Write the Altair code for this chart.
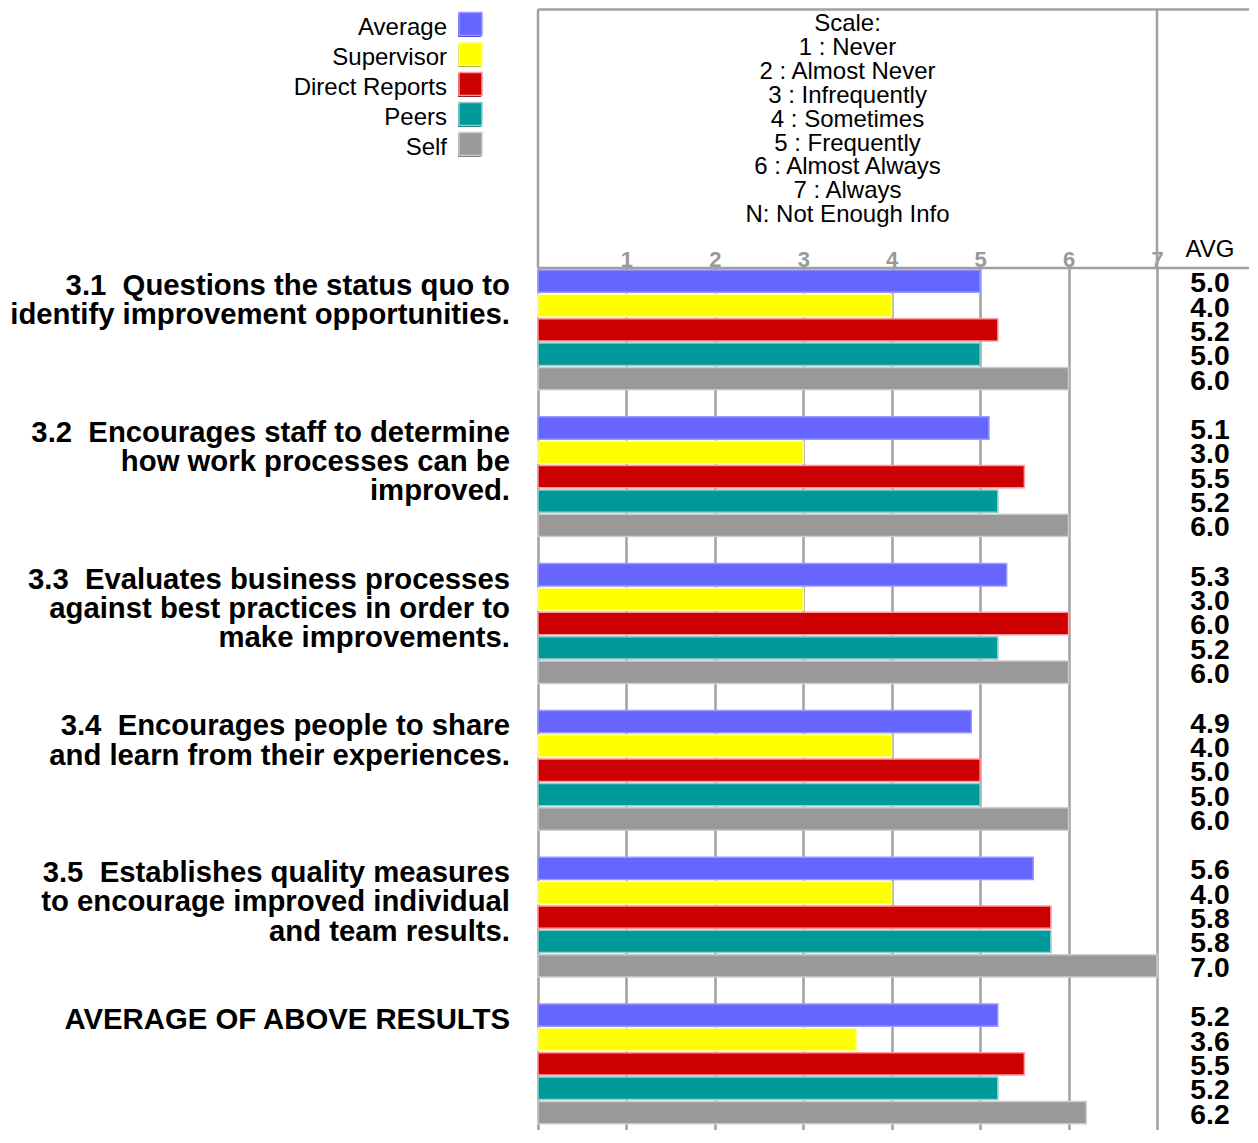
import altair as alt
import pandas as pd

groups = ["3.1", "3.2", "3.3", "3.4", "3.5", "AVG"]
group_labels = [
    "3.1\u00a0 Questions the status quo to\nidentify improvement opportunities.",
    "3.2\u00a0 Encourages staff to determine\nhow work processes can be\nimproved.",
    "3.3\u00a0 Evaluates business processes\nagainst best practices in order to\nmake improvements.",
    "3.4\u00a0 Encourages people to share\nand learn from their experiences.",
    "3.5\u00a0 Establishes quality measures\nto encourage improved individual\nand team results.",
    "AVERAGE OF ABOVE RESULTS",
]
series = ["Average", "Supervisor", "Direct Reports", "Peers", "Self"]
fill_colors = ["#6666ff", "#ffff00", "#cc0000", "#009999", "#999999"]
light_colors = ["#9999ff", "#ffff99", "#ff9999", "#99cccc", "#cccccc"]
dark_colors = ["#3333cc", "#999900", "#660000", "#006666", "#666666"]

v_31 = [5.0, 4.0, 5.2, 5.0, 6.0]
v_32 = [5.1, 3.0, 5.5, 5.2, 6.0]
v_33 = [5.3, 3.0, 6.0, 5.2, 6.0]
v_34 = [4.9, 4.0, 5.0, 5.0, 6.0]
v_35 = [5.6, 4.0, 5.8, 5.8, 7.0]
v_avg = [5.2, 3.6, 5.5, 5.2, 6.2]
all_values = [v_31, v_32, v_33, v_34, v_35, v_avg]

scale_lines = ["Scale:", "1 : Never", "2 : Almost Never", "3 : Infrequently",
               "4 : Sometimes", "5 : Frequently", "6 : Almost Always",
               "7 : Always", "N: Not Enough Info"]
tick_values = [0, 1, 2, 3, 4, 5, 6, 7]

rows = []
for g, vals in zip(groups, all_values):
    for s, v in zip(series, vals):
        rows.append({"group": g, "series": s, "value": v})
df = pd.DataFrame(rows)
df_labels = pd.DataFrame({"group": groups, "label": group_labels})
df_series = pd.DataFrame({"series": series})
one = pd.DataFrame({"k": [0]})

FONT = "Liberation Sans"
GRID = "#a0a0a0"
W, H = 619, 862

group_scale = alt.Scale(type="band", domain=groups, paddingInner=0.184,
                        paddingOuter=0.028, align=0.244)
y_enc = alt.Y("group:N", sort=groups, scale=group_scale, axis=None)
yoff_enc = alt.YOffset("series:N", sort=series,
                       scale=alt.Scale(type="band", domain=series,
                                       paddingInner=0.083, paddingOuter=0))
x_enc = alt.X("value:Q",
              scale=alt.Scale(domain=[0, 7], nice=False, zero=True),
              axis=alt.Axis(orient="top", values=tick_values, grid=True,
                            gridColor=GRID, gridWidth=2.5, domain=False,
                            ticks=False, tickSize=0,
                            labelExpr="datum.value == 0 ? '' : datum.label",
                            labelFont=FONT, labelFontSize=22,
                            labelFontWeight="bold", labelColor="#999999",
                            labelBaseline="alphabetic", labelPadding=2,
                            labelFlush=False, title=None))

fill_scale = alt.Scale(domain=series, range=fill_colors)
light_scale = alt.Scale(domain=series, range=light_colors)
dark_scale = alt.Scale(domain=series, range=dark_colors)

base = alt.Chart(df)

shadow = base.mark_bar(yOffset=1.5).encode(
    x=x_enc, y=y_enc, yOffset=yoff_enc,
    color=alt.Color("series:N", scale=dark_scale, legend=None),
)

bars = base.mark_bar(strokeWidth=1.5).encode(
    x=x_enc, y=y_enc, yOffset=yoff_enc,
    fill=alt.Fill("series:N", scale=fill_scale, legend=None),
    stroke=alt.Stroke("series:N", scale=light_scale, legend=None),
)

avg_text = base.mark_text(font=FONT, fontSize=28.3, fontWeight="bold",
                          baseline="middle", align="center", dy=3,
                          color="black").encode(
    x=alt.value(672), y=y_enc, yOffset=yoff_enc,
    text=alt.Text("value:Q", format=".1f"),
)

label_text = alt.Chart(df_labels).mark_text(
    font=FONT, fontSize=29.3, fontWeight="bold", align="right", baseline="top",
    lineBreak="\n", lineHeight=29.3, dy=2, color="black").encode(
    x=alt.value(-28),
    y=alt.Y("group:N", sort=groups, bandPosition=0, scale=group_scale, axis=None),
    text="label:N",
)

# Legend (labels left of the swatches), positioned by its own point scale
leg_y = alt.Y("series:N", sort=series,
              scale=alt.Scale(type="point", domain=series, range=[-244, -124],
                              padding=0),
              axis=None)
leg_shadow = alt.Chart(df_series).mark_square(size=529, opacity=1, yOffset=1.5,
                                              xOffset=-1).encode(
    x=alt.value(-67.5), y=leg_y,
    color=alt.Color("series:N", scale=dark_scale, legend=None))
leg_sym = alt.Chart(df_series).mark_square(size=529, opacity=1, strokeWidth=1.5).encode(
    x=alt.value(-67.5), y=leg_y,
    fill=alt.Fill("series:N", scale=fill_scale, legend=None),
    stroke=alt.Stroke("series:N", scale=light_scale, legend=None))
leg_text = alt.Chart(df_series).mark_text(
    font=FONT, fontSize=24, align="right", baseline="middle", dy=4,
    color="black").encode(x=alt.value(-91), y=leg_y, text="series:N")

scale_text = alt.Chart(pd.DataFrame({"t": ["\n".join(scale_lines)]})).mark_text(
    font=FONT, fontSize=24, lineBreak="\n", lineHeight=23.9, align="center",
    baseline="top", color="black").encode(
    x=alt.value(W / 2), y=alt.value(-256), text="t:N")

avg_header = alt.Chart(pd.DataFrame({"t": ["AVG"]})).mark_text(
    font=FONT, fontSize=24, align="center", baseline="alphabetic",
    color="black").encode(x=alt.value(672), y=alt.value(-11), text="t:N")

line_kw = dict(color=GRID, strokeWidth=2.5)
top_rule = alt.Chart(one).mark_rule(**line_kw).encode(
    x=alt.value(0), x2=alt.value(722), y=alt.value(-258.5))
axis_rule = alt.Chart(one).mark_rule(**line_kw).encode(
    x=alt.value(0), x2=alt.value(722), y=alt.value(0))
left_rule = alt.Chart(one).mark_rule(**line_kw).encode(
    x=alt.value(0), y=alt.value(-258.5), y2=alt.value(0))
right_rule = alt.Chart(one).mark_rule(**line_kw).encode(
    x=alt.value(W), y=alt.value(-258.5), y2=alt.value(0))

chart = alt.layer(
    top_rule, axis_rule, left_rule, right_rule,
    shadow, bars, avg_text, label_text,
    leg_shadow, leg_sym, leg_text,
    scale_text, avg_header,
).resolve_scale(y="independent").properties(
    width=W, height=H, autosize="none",
    padding={"left": 530, "top": 260, "right": 92, "bottom": 0},
).configure_view(strokeWidth=0).configure(font=FONT)

chart.save("out.html", embed_options={"renderer": "svg", "actions": False})
